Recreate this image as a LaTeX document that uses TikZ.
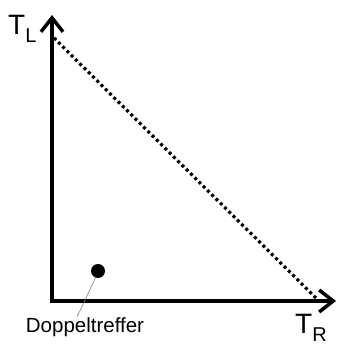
\documentclass[tikz,border=0pt]{standalone}
\usepackage{fontspec}
\setmainfont{Liberation Sans}
\usetikzlibrary{arrows.meta, positioning}

\begin{document}
\begin{tikzpicture}[
    x=1pt, y=1pt,
    axis/.style={
        line width=3.5pt,
        -{Straight Barb[length=14pt, width=22pt, line width=3.5pt]}
    },
    diag/.style={line width=3.2pt, dash pattern=on 3pt off 3pt},
    hit/.style={circle, fill=black, minimum size=14pt, inner sep=0pt},
    axislabel/.style={anchor=base west, inner sep=0pt, font=\fontsize{28}{28}\selectfont},
    lbl/.style={anchor=base, inner sep=0pt, font=\fontsize{20.5}{20.5}\selectfont}
]
\useasboundingbox (0,0) rectangle (337,344);

\coordinate (origin) at (52,43);
\coordinate (ytip) at (52,329);
\coordinate (xtip) at (336,43);
\coordinate (dstart) at (54,306);
\coordinate (dend) at (318,44);

% axes
\draw[axis] (origin) -- (ytip);
\draw[axis] ([xshift=-1.75pt]origin) -- (xtip);

% dotted diagonal
\draw[diag] (dstart) -- (dend);

\node[axislabel] (tl) at (8,309) {T\raisebox{-8pt}{\fontsize{20}{20}\selectfont L}};
\node[axislabel] (tr) at (295,10) {T\raisebox{-8pt}{\fontsize{20}{20}\selectfont R}};

\node[hit] (dot) at (98,73) {};
\node[lbl] (doppel) at (85,11) {Doppeltreffer};
\coordinate (lend) at (77,27);
\draw[gray, line width=0.6pt] (dot.250) -- (lend);

\end{tikzpicture}
\end{document}
